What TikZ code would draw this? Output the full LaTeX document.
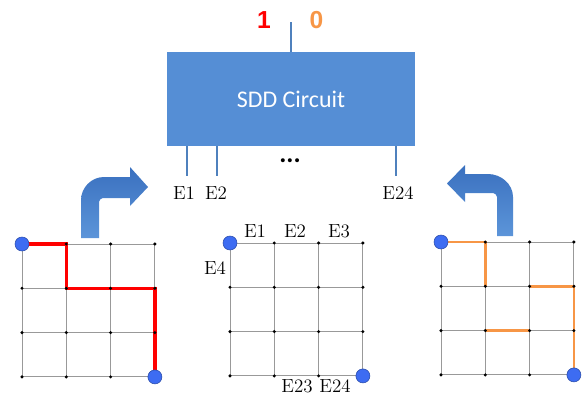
\documentclass[tikz,border=0pt]{standalone}
\usepackage{fontspec}
\newfontfamily\calibrifont{Carlito}
\newfontfamily\arialfont{Liberation Sans}
\usepackage{tikz}
\usetikzlibrary{
	arrows.meta,
	positioning,
	calc
}
\usepackage{xcolor}
\definecolor{boxblue}{HTML}{558ED5}
\definecolor{wireblue}{HTML}{4F81BD}
\definecolor{arrowtop}{HTML}{3A70BF}
\definecolor{arrowbot}{HTML}{5C95D9}
\definecolor{dotblue}{HTML}{3D6CF2}
\definecolor{pathred}{HTML}{FF0000}
\definecolor{pathorange}{HTML}{F79646}

\tikzset{
	sddbox/.style={rectangle,fill=boxblue,text=white,inner sep=0pt,
		minimum width=6.2cm,minimum height=2.35cm,
		font=\calibrifont\fontsize{17}{20}\selectfont},
	wire/.style={draw=wireblue,line width=1pt},
	bit/.style={inner sep=0pt,font=\arialfont\bfseries\fontsize{17.5}{20}\selectfont},
	lab/.style={inner sep=0pt,font=\fontsize{13.5}{15}\selectfont},
	gridline/.style={draw=gray!80,line width=0.6pt},
	redpath/.style={draw=pathred,line width=2.3pt},
	orangepath/.style={draw=pathorange,line width=2pt},
	endpt/.style={circle,fill=dotblue,draw=dotblue!70!black,line width=0.4pt,
		minimum size=0.35cm,inner sep=0pt},
	bentarrow/.style={top color=arrowtop,bottom color=arrowbot}
}

\begin{document}
\begin{tikzpicture}[x=0.025cm,y=-0.025cm,>=stealth]
		\useasboundingbox (0,0) rectangle (584,395);
		
		% The circuit with its output
		\node[sddbox] (sdd) at (291,99) {SDD Circuit};
		\coordinate (out) at (291,22);
		\draw[wire] (sdd.north) -- (out);
		\node[bit,text=pathred] (one) at (264,20.5) {1};
		\node[bit,text=pathorange] (zero) at (316.5,20.5) {0};
		
		% Inputs
		\foreach \n/\x in {E1/187,E2/217,E24/396}{
			\coordinate (in\n) at (\x,176);
			\draw[wire] (sdd.south -| in\n) -- (in\n);
		}
		\node[lab] (lE1) at (184,193) {E1};
		\node[lab] (lE2) at (216,193) {E2};
		\node[lab] (lE24) at (398,193) {E24};
		\node[inner sep=0pt,font=\calibrifont\bfseries\fontsize{19}{20}\selectfont] (dots) at (290,161) {...};
		
		% Bent arrows
		\shade[bentarrow] (81,238) -- (81,200) .. controls (81,188) and (91,177) .. (104,177)
		-- (130,177) -- (130,167) -- (148,187) -- (130,206) -- (130,198) -- (103,198)
		.. controls (101,198) and (99,200) .. (99,202) -- (99,238) -- cycle;
		
		\shade[bentarrow] (513,236) -- (513,197) .. controls (513,184) and (501,174) .. (488,174)
		-- (465,174) -- (465,165) -- (447,183.5) -- (465,202) -- (465,193) -- (493,193)
		.. controls (495,193) and (497,195) .. (497,197) -- (497,236) -- cycle;
		
		% Three grids
		\foreach \g/\ox/\oy in {L/22/244,M/230/243,R/441/242}{
			\foreach \i in {0,...,3}{
				\foreach \j in {0,...,3}{
					\coordinate (\g\i\j) at ({\ox+44.3*\i},{\oy+44.3*\j});
				}
			}
			\foreach \k in {0,...,3}{
				\draw[gridline] (\g\k0) -- (\g\k3);
				\draw[gridline] (\g0\k) -- (\g3\k);
			}
		}
		
		% Paths
		\draw[redpath] (L00) -- (L10) -- (L11) -- (L31) -- (L33);
		\draw[orangepath] (R00) -- (R10) -- (R11);
		\draw[orangepath] (R21) -- (R31) -- (R33);
		\draw[orangepath] (R12) -- (R22);
		
		\foreach \g in {L,M,R}{
			\foreach \i in {0,...,3}{
				\foreach \j in {0,...,3}{
					\fill (\g\i\j) circle (1.2pt);
				}
			}
			\node[endpt] (\g start) at (\g00) {};
			\node[endpt] (\g end) at (\g33) {};
		}
		
		% Edge names
		\node[lab] (mE1) at (255,231) {E1};
		\node[lab] (mE2) at (295,231) {E2};
		\node[lab] (mE3) at (339,231) {E3};
		\node[lab] (mE4) at (215,268) {E4};
		\node[lab] (mE23) at (297,386) {E23};
		\node[lab] (mE24) at (335,386) {E24};
		
	\end{tikzpicture}
\end{document}
